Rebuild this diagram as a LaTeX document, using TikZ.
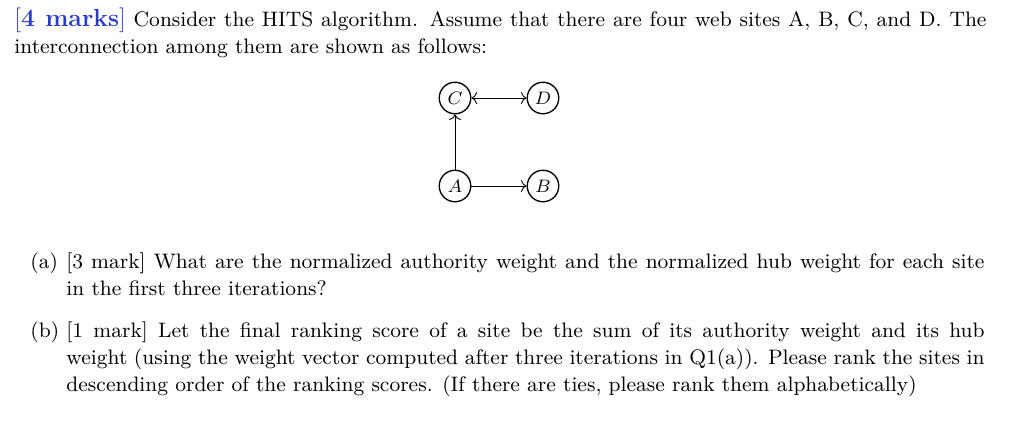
\documentclass[tikz,border=0pt]{standalone}
\usetikzlibrary{arrows.meta}
\definecolor{markblue}{RGB}{40,60,200}
\newcommand{\bodyfont}{\fontsize{9.3}{12}\selectfont}
\begin{document}
\begin{tikzpicture}[x=0.4444pt,y=-0.4444pt,
  site/.style={circle,draw,line width=0.6pt,minimum size=14pt,inner sep=0pt,font=\footnotesize},
  link/.style={line width=0.4pt,-{To[length=2.5pt]}},
  para/.style={anchor=north west,inner sep=0pt,align=justify,font=\bodyfont}]
\useasboundingbox (0,0) rectangle (1024,420);
\node[para,text width=432pt] (intro) at (14,7) {{\color{markblue}\fontsize{11}{12}\selectfont[\textbf{4 marks}]} Consider the HITS algorithm. Assume that there are four web sites A, B, C, and D. The interconnection among them are shown as follows:};
\node[site] (C) at (455,98) {$C$};
\node[site] (D) at (543,98) {$D$};
\node[site] (A) at (455,186) {$A$};
\node[site] (B) at (543,186) {$B$};
\draw[link,{To[length=2.5pt]}-{To[length=2.5pt]}] (C) -- (D);
\draw[link] (A) -- (C);
\draw[link] (A) -- (B);
\node[anchor=north west,inner sep=0pt,font=\bodyfont] (la) at (30,252) {(a)};
\node[para,text width=408pt] (qa) at (66,252) {[3 mark] What are the normalized authority weight and the normalized hub weight for each site in the first three iterations?};
\node[anchor=north west,inner sep=0pt,font=\bodyfont] (lb) at (30,321) {(b)};
\node[para,text width=408pt] (qb) at (66,321) {[1 mark] Let the final ranking score of a site be the sum of its authority weight and its hub weight (using the weight vector computed after three iterations in Q1(a)). Please rank the sites in descending order of the ranking scores. (If there are ties, please rank them alphabetically)};
\end{tikzpicture}
\end{document}
